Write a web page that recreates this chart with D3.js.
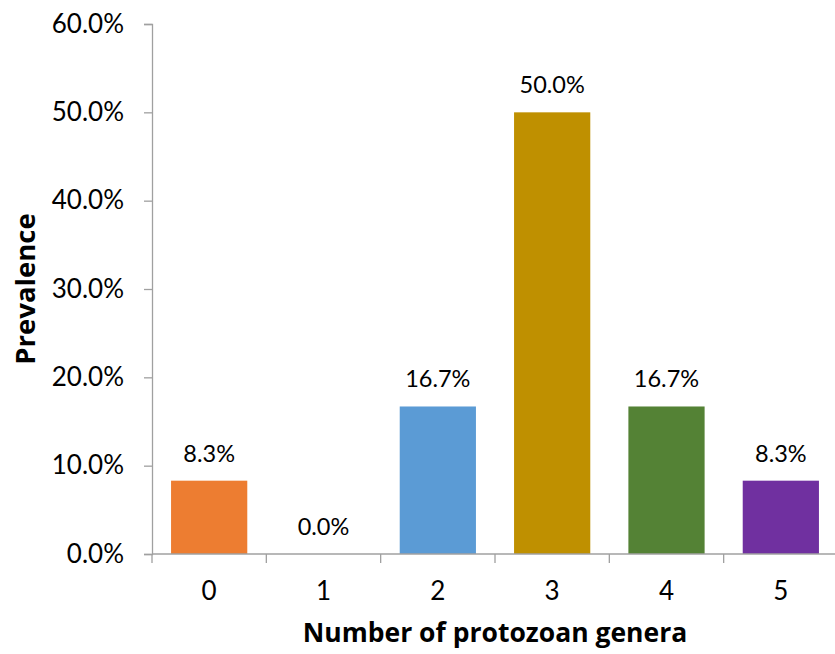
<!DOCTYPE html>
<html>
<head>
<meta charset="utf-8">
<script src="https://cdn.jsdelivr.net/npm/d3@7"></script>
<style>
  html, body { margin: 0; padding: 0; background: #fff; }
  svg { display: block; }
  text { font-family: Lato, "Open Sans", sans-serif; fill: #000; }
  .title { font-family: "Open Sans", Lato, sans-serif; font-weight: bold; }
</style>
</head>
<body>
<svg id="chart" width="835" height="654"></svg>
<script>
// Prevalence by number of protozoan genera detected
const categories = ["0", "1", "2", "3", "4", "5"];
const prevalence = [8.3, 0.0, 16.7, 50.0, 16.7, 8.3];
const barColors = ["#ED7D31", "#5B9BD5", "#5B9BD5", "#BF9000", "#548235", "#7030A0"];
const yTicks = [0, 10, 20, 30, 40, 50, 60];

const svg = d3.select("#chart");
const margin = { left: 152, right: -3, top: 24, bottom: 100 };
const W = 835, H = 654;
const x0 = margin.left, x1 = W - margin.right;
const yTop = margin.top, yBot = H - margin.bottom;

const x = d3.scaleBand().domain(categories).range([x0, x1]).paddingInner(1 / 3).paddingOuter(1 / 6);
const xb = d3.scaleBand().domain(categories).range([x0, x1]).padding(0);
const y = d3.scaleLinear().domain([0, 60]).range([yBot, yTop]);

const axisColor = "#A0A0A0";

// Bars
svg.append("g").selectAll("rect")
  .data(prevalence)
  .join("rect")
  .attr("x", (d, i) => x(categories[i]))
  .attr("width", x.bandwidth())
  .attr("y", d => y(d))
  .attr("height", d => y(0) - y(d))
  .attr("fill", (d, i) => barColors[i]);

// Y axis
const yAxis = svg.append("g")
  .attr("transform", `translate(${x0},0)`)
  .call(d3.axisLeft(y).tickValues(yTicks).tickSize(8).tickPadding(20)
    .tickFormat(d => d.toFixed(1) + "%"));
yAxis.select(".domain").attr("stroke", axisColor).attr("stroke-width", 1.3);
yAxis.selectAll(".tick line").attr("stroke", axisColor).attr("stroke-width", 1.3);
yAxis.selectAll(".tick text").style("font-size", "26px").style("font-family", "Lato, sans-serif").attr("fill", "#000");

// X axis (ticks between categories)
const xAxisG = svg.append("g").attr("transform", `translate(0,${yBot})`);
xAxisG.append("line")
  .attr("x1", x0).attr("x2", x1)
  .attr("stroke", axisColor).attr("stroke-width", 1.3);
const boundaries = categories.map(c => xb(c)).concat([xb(categories[categories.length - 1]) + xb.bandwidth()]);
xAxisG.selectAll("line.tk")
  .data(boundaries)
  .join("line")
  .attr("class", "tk")
  .attr("x1", d => d).attr("x2", d => d)
  .attr("y1", 0).attr("y2", 9)
  .attr("stroke", axisColor).attr("stroke-width", 1.3);
xAxisG.selectAll("text")
  .data(categories)
  .join("text")
  .attr("x", d => xb(d) + xb.bandwidth() / 2)
  .attr("y", 46)
  .attr("text-anchor", "middle")
  .style("font-size", "26px")
  .text(d => d);

// Data labels
svg.append("g").selectAll("text")
  .data(prevalence)
  .join("text")
  .attr("x", (d, i) => x(categories[i]) + x.bandwidth() / 2)
  .attr("y", d => y(d) - 19)
  .attr("text-anchor", "middle")
  .style("font-size", "23.5px")
  .text(d => d.toFixed(1) + "%");

// Axis titles
svg.append("text")
  .attr("class", "title")
  .attr("x", (x0 + x1) / 2)
  .attr("y", 642)
  .attr("text-anchor", "middle")
  .style("font-size", "26.5px")
  .text("Number of protozoan genera");

svg.append("text")
  .attr("class", "title")
  .attr("transform", `translate(35,${(yTop + yBot) / 2}) rotate(-90)`)
  .attr("text-anchor", "middle")
  .style("font-size", "27.5px")
  .text("Prevalence");
</script>
</body>
</html>
